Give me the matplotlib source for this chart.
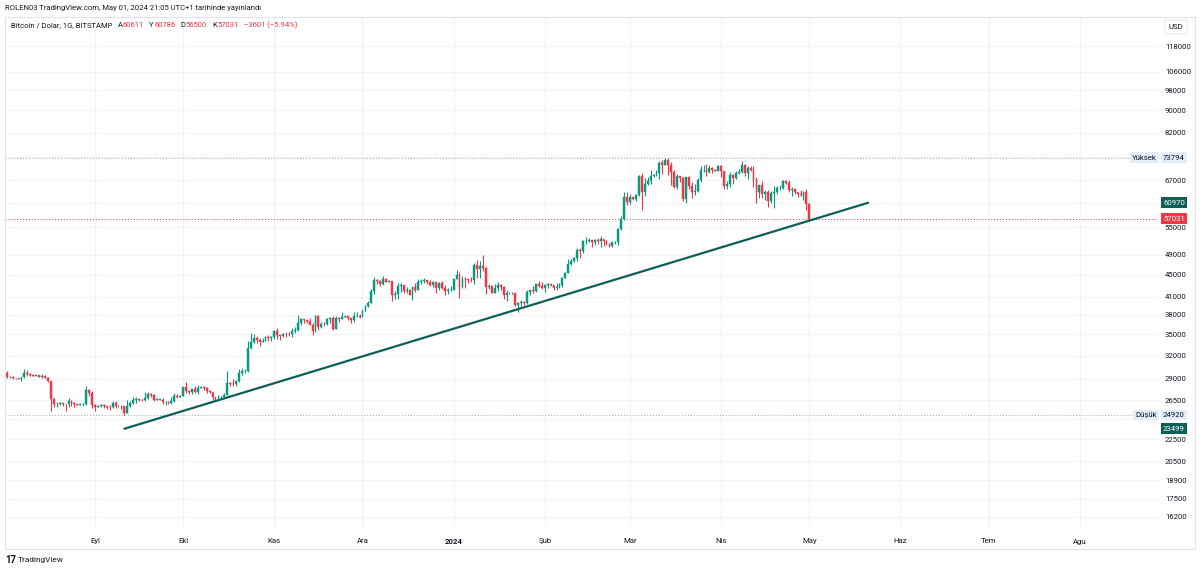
import numpy as np
import pandas as pd
import matplotlib
matplotlib.use("Agg")
import matplotlib.pyplot as plt
import matplotlib.dates as mdates
from matplotlib import transforms
from matplotlib.patches import Rectangle

plt.rcParams['font.family'] = ['Roboto', 'Noto Sans', 'DejaVu Sans']

# ---------------- data ----------------
start_date = "2023-08-01"
first_open = 29220
closes = [
    29700,29180,29180,29070,29050,29040,29180,29770,29580,29440,29400,29420,29290,29410,29170,28700,26630,26060,26100,26190,26120,26040,26430,26160,26060,26010,26090,26100,27720,27300,25940,
    25800,25870,25970,25820,25790,25750,26240,25900,25900,25840,25160,25840,26230,26530,26600,26570,26530,26760,27210,27130,26570,26580,26580,26260,26300,26220,26370,27020,26910,26970,
    27990,27500,27430,27790,27410,27950,27970,27940,27600,27390,26870,26750,26860,26870,27150,28520,28420,28330,28720,29680,29920,29990,33090,33920,34500,34150,33900,34090,34540,34500,34670,
    35420,34940,34730,35080,35050,35040,35420,35630,36700,37310,37130,37060,36480,35540,37880,36160,36600,36580,37370,37470,35810,37420,37290,37720,37790,37460,37250,37830,37850,37710,
    38690,39460,39970,41980,44080,43770,43290,44170,43720,43790,41240,41450,42870,43020,41940,42260,41370,42660,42270,43650,43860,43990,43720,43010,43600,42520,43440,42580,42070,42140,42280,
    44180,44950,42820,44180,44160,43970,43930,46970,46110,46630,46340,42780,42840,41730,42500,43150,42740,41260,41620,41670,41580,39530,39900,40080,39940,41820,42120,42030,43300,42940,42580,
    43080,43200,43010,42580,42660,43090,44340,45300,47150,47770,48290,49960,49700,51800,51940,52140,51660,52120,51780,52260,51860,51320,50740,51570,51730,54490,57050,62500,61200,
    62400,62030,63130,68330,63800,66100,66900,68300,68500,69000,72100,71500,73100,71400,69500,65300,68400,67600,61900,67900,65500,63800,64100,67200,69900,69900,69500,70700,69900,69700,71300,
    69700,65500,66000,68500,67800,69000,69400,71600,69100,70600,70000,67100,63900,65700,63400,63800,61300,63500,63800,64900,64900,66800,66400,64300,64500,63800,63400,63100,63800,60632,
    57031,
]
highs = [
    29750,29950,29400,29300,29120,29150,29250,30200,30100,29680,29550,29450,29450,29650,29450,29250,28750,26800,26270,26300,26250,26130,26800,26560,26300,26100,26180,26220,28130,27740,27570,
    26120,25980,26120,26080,25880,26000,26420,26420,25940,26000,25880,26530,26400,26820,26880,26660,26620,27400,27480,27360,27160,26720,26630,26720,26420,26390,26830,27300,27230,27090,
    28050,28580,27670,27830,28120,28270,28030,28100,27990,27730,27480,26830,27100,26970,27290,30000,28600,28980,28910,30190,30340,30200,33990,35200,35100,34800,34450,34450,34740,34850,34720,
    35580,35970,34940,35260,35380,35280,35890,36040,37940,37510,37410,37230,37430,36750,37960,37930,36800,36840,37500,37720,37850,37860,37650,38420,37880,37830,37570,38380,38430,38150,
    38970,39680,40220,42420,44490,44280,44050,44700,44370,44040,43800,42100,43440,43400,43090,42740,42440,42730,43450,44240,44280,44380,43980,43940,43760,43600,43690,43800,43120,42590,42880,
    44190,45900,45500,44770,44490,44240,44500,47220,47890,47650,48970,46520,43250,43080,43340,43570,43190,42930,42170,41860,41860,41680,40120,40510,40280,42200,42200,42830,43330,43850,43730,
    43240,43470,43360,43100,43500,43400,44500,45600,48160,48150,48570,50350,50350,52050,52820,52600,52180,52360,52490,52930,52380,52010,51530,51690,51950,54900,57560,63930,63680,
    63150,62400,63200,68500,69200,67600,67950,69900,68700,70000,72800,73000,73650,73794,72400,70000,68900,68200,68100,68100,68200,66600,65900,67600,71100,71500,71700,71500,70900,70300,71400,
    71350,69750,66900,69300,68700,69700,70300,72700,71800,71200,71200,71300,67900,65800,66800,64400,64400,64100,65400,65400,65700,67200,67100,67100,65300,64800,63900,64300,64200,64700,
    60786,
]
lows = [
    28650,29100,29100,28950,28980,28980,28700,29120,29400,29340,29300,29360,29250,29100,29080,28680,25350,25770,25800,25980,25820,25350,25800,25870,25770,25980,25970,25880,25930,27030,25660,
    25330,25730,25800,25600,25570,25400,25610,25650,25810,25580,24920,25130,25750,26130,26230,26470,26410,26380,26680,26850,26370,26500,26500,26130,25990,26080,26120,26340,26700,26890,
    26950,27330,27170,27220,27370,27170,27870,27700,27290,27330,26560,26540,26690,26810,26830,27120,28110,28150,28170,28610,29480,29680,29900,32900,33700,33770,33350,33880,34040,34090,34080,
    34300,34360,34120,34580,34540,34760,34550,35130,35540,36350,36760,36750,36330,34970,35360,35640,35910,36210,36390,36750,35680,35760,36880,37270,37600,37160,36730,36890,37600,37510,
    37620,38650,39280,39960,41410,43350,42870,43080,43620,43590,40300,40680,40620,41810,41660,41690,41260,40530,41850,42200,43330,43420,43310,42850,42780,41650,42130,42310,41320,41560,41990,
    42180,44180,40800,42630,42600,43430,43600,43220,44360,44300,45660,41500,42440,41700,41720,42050,42200,40680,40270,41450,41490,39450,38500,39520,39530,39820,41400,41650,41800,42700,42300,
    41880,42580,42880,42260,42250,42570,42790,44330,45250,46850,47550,47700,48350,49250,51320,51560,50650,51030,51240,50580,50810,50930,50560,50600,51290,50920,54450,56700,60400,
    60780,61650,61350,62800,59150,62850,65650,66100,68100,68300,67500,68700,71400,68600,65600,64800,64600,66600,61500,60800,64500,62300,63000,63800,66600,69300,68400,69100,69100,69600,69600,
    68100,64500,64500,65100,66100,67400,68800,69100,68200,67500,69600,65100,60800,62300,62300,61800,59800,60800,59600,63200,64300,64500,65900,63900,62800,63300,62500,62800,61800,59200,
    56500,
]

trend_dates = ["2023-09-11", "2024-05-21"]
trend_values = [23499, 60970]
high_level = 73794
low_level = 24920
last_price = 57031

grid_levels = [16200, 17500, 18900, 20500, 22500, 24500, 26500, 29000, 32000, 35000, 38000,
               41000, 45000, 49000, 55000, 61000, 67000, 74000, 82000, 90000, 98000, 106000, 118000]
hidden_levels = [24500, 61000, 74000]

month_starts = ["2023-09-01", "2023-10-01", "2023-11-01", "2023-12-01", "2024-01-01", "2024-02-01",
                "2024-03-01", "2024-04-01", "2024-05-01", "2024-06-01", "2024-07-01", "2024-08-01"]
month_labels = ["Eyl", "Eki", "Kas", "Ara", "2024", "Şub", "Mar", "Nis", "May", "Haz", "Tem", "Ağu"]

header_title = "Bitcoin / Dolar, 1G, BITSTAMP"
header_values = [("A", "60611"), ("Y", "60786"), ("D", "56500"), ("K", "57031")]
header_change = "−3601 (−5.94%)"
publish_note = "ROLEN03 TradingView.com, May 01, 2024 21:05 UTC+1 tarihinde yayınlandı"

# ---------------- styling ----------------
GREEN = "#089981"
RED = "#f23645"
TEAL = "#0d5f57"
TXT = "#131722"
GRID = "#f0f3fa"
W, H = 1200, 570

fig = plt.figure(figsize=(12, 5.7), dpi=100)
fig.patch.set_facecolor("white")
renderer = fig.canvas.get_renderer()


def fit_size(text, target_px, base=7.0, **kw):
    t = fig.text(0, 0, text, fontsize=base, **kw)
    w = t.get_window_extent(renderer).width
    t.remove()
    return base * target_px / w


FS = fit_size("118000", 26)          # axis label size
HS = fit_size(publish_note, 256)     # header size

dates = pd.date_range(start_date, periods=len(closes), freq="D")
x = mdates.date2num(dates)
opens = [first_open] + closes[:-1]
o = np.array(opens, float); c = np.array(closes, float)
hi = np.array(highs, float); lo = np.array(lows, float)
up = c >= o
cols = np.where(up, GREEN, RED)

ax_l, ax_r, ax_t, ax_b = 5, 1158, 17, 530
ax = fig.add_axes([ax_l / W, 1 - ax_b / H, (ax_r - ax_l) / W, (ax_b - ax_t) / H])
ax.set_facecolor("white")
ax.set_yscale("log")

sep1 = mdates.date2num(pd.Timestamp("2023-09-01"))
ax.set_xlim(sep1 - 30.6, sep1 + 361.6)
ax.set_ylim(15330, 133500)

# grid
for g in grid_levels:
    ax.axhline(g, color=GRID, lw=0.9, zorder=0)
for m in month_starts:
    ax.axvline(mdates.date2num(pd.Timestamp(m)), color=GRID, lw=0.9, zorder=0)

# candles
ax.vlines(x, lo, hi, colors=cols, lw=0.8, zorder=3)
body_bottom = np.minimum(o, c)
body_h = np.maximum(np.abs(c - o), c * 0.0008)
ax.bar(x, body_h, bottom=body_bottom, width=0.62, color=cols, edgecolor=cols, lw=0.3, zorder=4)

# level lines
ax.axhline(high_level, color="#a3a6af", lw=0.7, ls=(0, (1, 2)), zorder=2)
ax.axhline(low_level, color="#a3a6af", lw=0.7, ls=(0, (1, 2)), zorder=2)
ax.axhline(last_price, color=RED, lw=0.7, ls=(0, (1, 2)), zorder=2)

# trend line
tx = mdates.date2num(pd.to_datetime(trend_dates))
ax.plot(tx, trend_values, color=TEAL, lw=1.6, solid_capstyle="round", zorder=5)

# axes cosmetics
for s in ax.spines.values():
    s.set_visible(False)
ax.yaxis.tick_right()
ax.set_yticks(grid_levels)
ax.set_yticklabels(["" if g in hidden_levels else str(g) for g in grid_levels])
ax.yaxis.set_minor_locator(matplotlib.ticker.NullLocator())
ax.tick_params(axis="y", length=0, pad=5, labelsize=FS, labelcolor=TXT)
ax.set_xticks(mdates.date2num(pd.to_datetime(month_starts)))
ax.set_xticklabels(month_labels)
ax.tick_params(axis="x", length=0, pad=6, labelsize=FS, labelcolor=TXT)
for lab in ax.get_xticklabels():
    if lab.get_text() == "2024":
        lab.set_fontweight("bold")

# price labels on the right
bt = transforms.blended_transform_factory(ax.transAxes, ax.transData)
xr = (1163 - ax_l) / (ax_r - ax_l)
xin = (1157 - ax_l) / (ax_r - ax_l)
LB = "#e3eefc"
for val, word in [(high_level, "Yüksek"), (low_level, "Düşük")]:
    ax.text(xr, val, str(val), transform=bt, fontsize=FS, color=TXT, va="center", ha="left",
            bbox=dict(boxstyle="square,pad=0.3", fc=LB, ec="none"), clip_on=False, zorder=10)
    ax.text(xin, val, word, transform=bt, fontsize=FS, color=TXT, va="center", ha="right",
            bbox=dict(boxstyle="square,pad=0.3", fc=LB, ec="none"), clip_on=False, zorder=10)
for val, fc in [(trend_values[1], TEAL), (trend_values[0], TEAL), (last_price, RED)]:
    ax.text(xr, val, str(val), transform=bt, fontsize=FS, color="white", va="center", ha="left",
            bbox=dict(boxstyle="square,pad=0.3", fc=fc, ec="none"), clip_on=False, zorder=11)

# outer frame
fig.patches.append(Rectangle((5 / W, 1 - 549 / H), 1190 / W, (549 - 17) / H, transform=fig.transFigure,
                             fill=False, ec="#e0e3eb", lw=0.8))
# USD box
fig.text(1176 / W, 1 - 27 / H, "USD", fontsize=FS, color=TXT, ha="center", va="center",
         bbox=dict(boxstyle="round,pad=0.5,rounding_size=0.3", fc="white", ec="#e0e3eb", lw=0.6))


def seq_text(x0, y, pieces, size):
    xp = x0
    for s, col, gap in pieces:
        t = fig.text(xp / W, 1 - y / H, s, fontsize=size, color=col, ha="left", va="center")
        xp += t.get_window_extent(renderer).width + gap


fig.text(5 / W, 1 - 8 / H, publish_note, fontsize=HS, color=TXT, ha="left", va="center")
pieces = [(header_title, TXT, 5)]
for lt, num in header_values:
    pieces.append((lt, TXT, 0.5))
    pieces.append((num, RED, 5))
pieces.append((header_change, RED, 0))
seq_text(11, 25, pieces, HS)

# footer logo
fig.text(5 / W, 1 - 560 / H, "17", fontsize=HS + 1.5, fontweight="bold", color=TXT, ha="left", va="center")
fig.text(18 / W, 1 - 560 / H, "TradingView", fontsize=HS + 0.5, color=TXT, ha="left", va="center")

fig.savefig("out.png", dpi=100, facecolor="white")
